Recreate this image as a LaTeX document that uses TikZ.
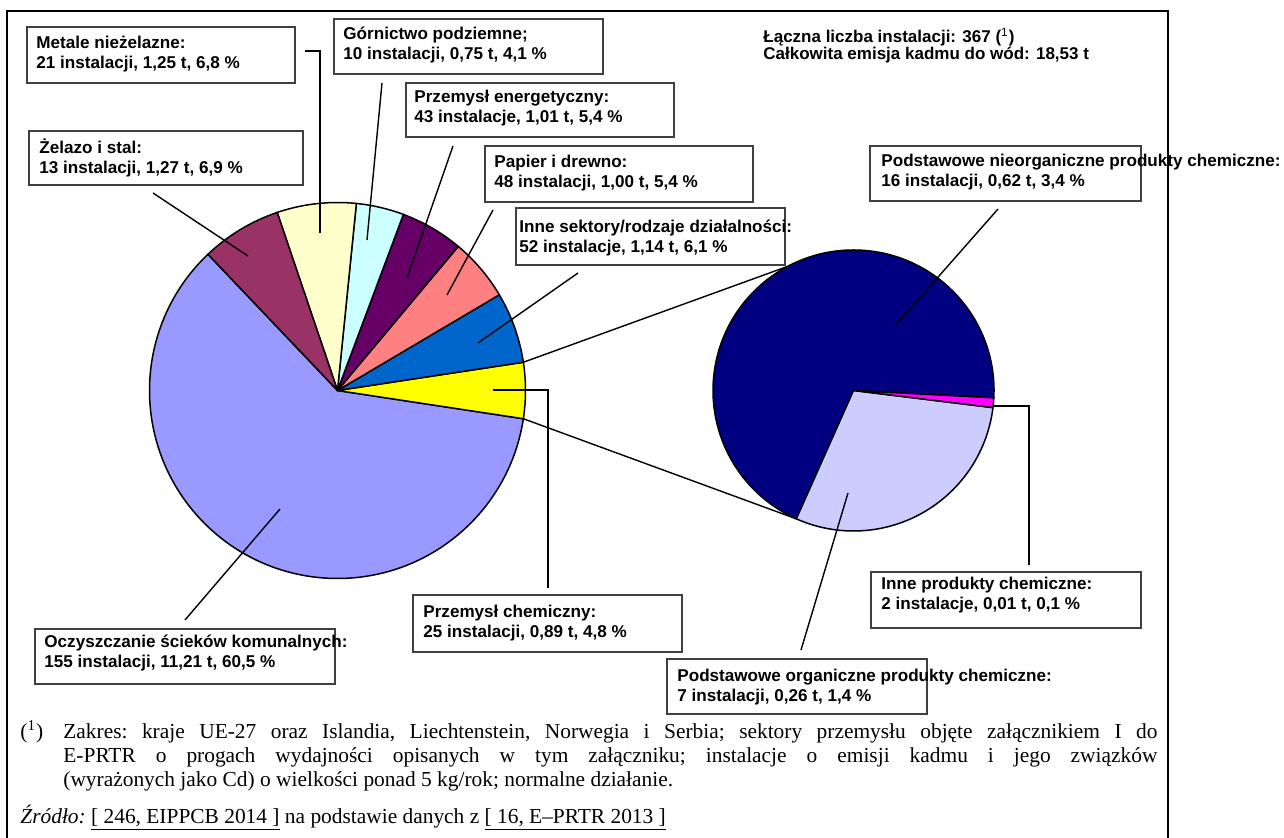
\documentclass[tikz,border=0pt]{standalone}
\usepackage{fontspec}
\setmainfont{Liberation Serif}
\setsansfont{Liberation Sans}
\usetikzlibrary{fit}
\definecolor{cLav}{HTML}{9999FF}
\definecolor{cMar}{HTML}{993366}
\definecolor{cCre}{HTML}{FFFFCC}
\definecolor{cCya}{HTML}{CCFFFF}
\definecolor{cPur}{HTML}{660066}
\definecolor{cSal}{HTML}{FF8080}
\definecolor{cBlu}{HTML}{0066CC}
\definecolor{cYel}{HTML}{FFFF00}
\definecolor{cNav}{HTML}{000080}
\definecolor{cLav2}{HTML}{CCCCFF}
\definecolor{cMag}{HTML}{FF00FF}
\definecolor{boxgray}{HTML}{404040}
\newcommand{\fnfont}{\fontsize{10.7}{12}\selectfont\frenchspacing}
\tikzset{
  slice/.style={draw=black, line width=0.75pt, line join=round},
  conn/.style={draw=black, line width=0.7pt},
  lblbox/.style={draw=boxgray, line width=0.75pt, fill=white, inner sep=0pt, rectangle},
  lbl/.style={font=\sffamily\bfseries\fontsize{8.55}{10}\selectfont, align=left, inner sep=0pt, anchor=west},
  fnline/.style={font=\fnfont, inner sep=0pt, anchor=base west},
}
\newcommand{\pieslice}[5]{% center, angle1, angle2, radius, colour
  \filldraw[slice, fill=#5] (#1) -- +(#2:#4) arc[start angle=#2, end angle=#3, radius=#4] -- cycle;}
\begin{document}
\begin{tikzpicture}[x=0.5pt,y=-0.5pt]
\useasboundingbox (0,0) rectangle (1284,838);
\fill[white] (0,0) rectangle (1284,838);
% frame
\draw[line width=1pt] (7,845) -- (7,11) -- (1168,11) -- (1168,845);
% pies
\coordinate (C1) at (337.5,390.5);
\coordinate (C2) at (853.5,390.5);
\pieslice{C1}{133.56}{351.36}{94pt}{cLav}
\pieslice{C1}{-8.64}{8.64}{94pt}{cYel}
\pieslice{C1}{8.64}{30.6}{94pt}{cBlu}
\pieslice{C1}{30.6}{50.04}{94pt}{cSal}
\pieslice{C1}{50.04}{69.48}{94pt}{cPur}
\pieslice{C1}{69.48}{84.24}{94pt}{cCya}
\pieslice{C1}{84.24}{108.72}{94pt}{cCre}
\pieslice{C1}{108.72}{133.56}{94pt}{cMar}
\pieslice{C2}{-3}{246}{70.25pt}{cNav}
\pieslice{C2}{-114}{-7}{70.25pt}{cLav2}
\pieslice{C2}{-7}{-3}{70.25pt}{cMag}
% pie-of-pie connecting lines
\path (C1) ++(8.64:94pt) coordinate (yTop);
\path (C1) ++(-8.64:94pt) coordinate (yBot);
\path (C2) ++(118:70.25pt) coordinate (sTop);
\path (C2) ++(-114:70.25pt) coordinate (sBot);
\draw[conn] (yTop) -- (sTop);
\draw[conn] (yBot) -- (sBot);
% label boxes
\node[lblbox, fit={(27,27) (295,83)}] (bMet) {};
\node[lblbox, fit={(29,131) (303,185)}] (bZel) {};
\node[lblbox, fit={(334,19) (603,74)}] (bGor) {};
\node[lblbox, fit={(406,83) (674,137)}] (bEne) {};
\node[lblbox, fit={(485,146) (753,202)}] (bPap) {};
\node[lblbox, fit={(516,208) (785,265)}] (bInn) {};
\node[lblbox, fit={(413,595) (682,652)}] (bChe) {};
\node[lblbox, fit={(35,629) (335,684)}] (bOcz) {};
\node[lblbox, fit={(870,146) (1141,201)}] (bNie) {};
\node[lblbox, fit={(871,572) (1141,628)}] (bIpc) {};
\node[lblbox, fit={(667,659) (927,714)}] (bOrg) {};
% label texts
\node[lbl] (tMet) at (36,54) {Metale nieżelazne:\\21 instalacji, 1,25 t, 6,8 \%};
\node[lbl] (tZel) at (39,158) {Żelazo i stal:\\13 instalacji, 1,27 t, 6,9 \%};
\node[lbl] (tGor) at (343,45) {Górnictwo podziemne;\\10 instalacji, 0,75 t, 4,1 \%};
\node[lbl] (tEne) at (414,108) {Przemysł energetyczny:\\43 instalacje, 1,01 t, 5,4 \%};
\node[lbl] (tPap) at (494,173) {Papier i drewno:\\48 instalacji, 1,00 t, 5,4 \%};
\node[lbl] (tInn) at (519,238) {Inne sektory/rodzaje działalności:\\52 instalacje, 1,14 t, 6,1 \%};
\node[lbl] (tChe) at (423,623.5) {Przemysł chemiczny:\\25 instalacji, 0,89 t, 4,8 \%};
\node[lbl] (tOcz) at (44,653) {Oczyszczanie ścieków komunalnych:\\155 instalacji, 11,21 t, 60,5 \%};
\node[lbl] (tNie) at (881,172) {Podstawowe nieorganiczne produkty chemiczne:\\16 instalacji, 0,62 t, 3,4 \%};
\node[lbl] (tIpc) at (881,595) {Inne produkty chemiczne:\\2 instalacje, 0,01 t, 0,1 \%};
\node[lbl] (tOrg) at (677,687) {Podstawowe organiczne produkty chemiczne:\\7 instalacji, 0,26 t, 1,4 \%};
% header
\node[lbl, font=\sffamily\bfseries\fontsize{8.5}{8.5}\selectfont] (head) at (763,46) {Łączna liczba instalacji: 367 (\textsuperscript{\mdseries 1})\\Całkowita emisja kadmu do wód: 18,53 t};
% connector endpoints
\coordinate (kMet1) at (305,51); \coordinate (kMet2) at (320,51); \coordinate (kMet3) at (320,233);
\coordinate (kZel1) at (153,193); \coordinate (kZel2) at (248,256);
\coordinate (kGor1) at (382,83); \coordinate (kGor2) at (367,240);
\coordinate (kEne1) at (453,146); \coordinate (kEne2) at (407,278);
\coordinate (kPap1) at (493,210); \coordinate (kPap2) at (447,295);
\coordinate (kInn1) at (578,273); \coordinate (kInn2) at (478,343);
\coordinate (kChe1) at (493,390); \coordinate (kChe2) at (548,390); \coordinate (kChe3) at (548,588);
\coordinate (kOcz1) at (280,509); \coordinate (kOcz2) at (185,620);
\coordinate (kNie1) at (998,209); \coordinate (kNie2) at (895,326);
\coordinate (kIpc1) at (993,406); \coordinate (kIpc2) at (1029,406); \coordinate (kIpc3) at (1029,565);
\coordinate (kOrg1) at (848,493); \coordinate (kOrg2) at (801,650);
\draw[conn] (kMet1) -- (kMet2) -- (kMet3);
\draw[conn] (kZel1) -- (kZel2);
\draw[conn] (kGor1) -- (kGor2);
\draw[conn] (kEne1) -- (kEne2);
\draw[conn] (kPap1) -- (kPap2);
\draw[conn] (kInn1) -- (kInn2);
\draw[conn] (kChe1) -- (kChe2) -- (kChe3);
\draw[conn] (kOcz1) -- (kOcz2);
\draw[conn] (kNie1) -- (kNie2);
\draw[conn] (kIpc1) -- (kIpc2) -- (kIpc3);
\draw[conn] (kOrg1) -- (kOrg2);
% footnote
\node[fnline] (fnm) at (20,738) {(\textsuperscript{1})};
\node[fnline] (fn1) at (63,738) {\makebox[547pt][s]{Zakres: kraje UE-27 oraz Islandia, Liechtenstein, Norwegia i Serbia; sektory przemysłu objęte załącznikiem I do}};
\node[fnline] (fn2) at (63,762) {\makebox[547pt][s]{E-PRTR o progach wydajności opisanych w tym załączniku; instalacje o emisji kadmu i jego związków}};
\node[fnline] (fn3) at (63,786) {(wyrażonych jako Cd) o wielkości ponad 5 kg/rok; normalne działanie.};
\node[fnline] (src) at (20,823) {\textit{Źródło:} \underline{[ 246, EIPPCB 2014 ]} na podstawie danych z \underline{[ 16, E–PRTR 2013 ]}};
\end{tikzpicture}
\end{document}
